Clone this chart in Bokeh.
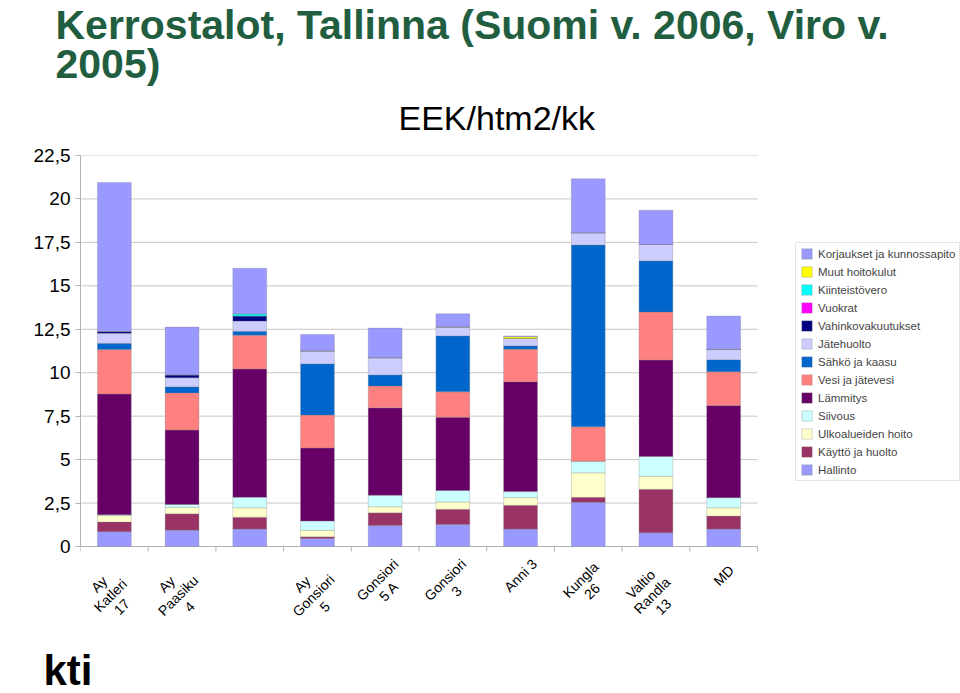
import math
from bokeh.plotting import figure
from bokeh.models import (ColumnDataSource, Range1d, FixedTicker, Legend,
                          LegendItem, Title)
from bokeh.core.properties import value
from bokeh.embed import file_html
from bokeh.resources import INLINE

# ---------------- data ----------------
categories = ["Ay\nKatleri\n17", "Ay\nPaasiku\n4", "", "Ay\nGonsiori\n5",
              "Gonsiori\n5 A", "Gonsiori\n3", "Anni 3", "Kungla\n26",
              "Valtio\nRandla\n13", "MD"]

hallinto = [0.85, 0.94, 1.00, 0.46, 1.21, 1.27, 1.00, 2.54, 0.79, 1.00]
kaytto = [0.56, 0.94, 0.69, 0.10, 0.73, 0.87, 1.37, 0.29, 2.50, 0.75]
ulkoalueet = [0.37, 0.37, 0.54, 0.37, 0.35, 0.42, 0.44, 1.41, 0.75, 0.48]
siivous = [0.05, 0.17, 0.60, 0.54, 0.66, 0.66, 0.35, 0.67, 1.14, 0.58]
lammitys = [6.95, 4.28, 7.38, 4.20, 5.03, 4.22, 6.32, 0.00, 5.55, 5.30]
vesi = [2.56, 2.14, 1.95, 1.89, 1.25, 1.46, 1.87, 1.98, 2.76, 1.95]
sahko = [0.35, 0.35, 0.23, 2.95, 0.64, 3.22, 0.20, 10.46, 2.95, 0.69]
jatehuolto = [0.58, 0.52, 0.58, 0.75, 1.00, 0.52, 0.42, 0.71, 0.94, 0.60]
vahinko = [0.10, 0.17, 0.29, 0.00, 0.00, 0.00, 0.00, 0.00, 0.00, 0.00]
vuokrat = [0.00, 0.00, 0.00, 0.00, 0.00, 0.00, 0.00, 0.00, 0.00, 0.00]
kiinteistovero = [0.00, 0.00, 0.13, 0.00, 0.00, 0.00, 0.00, 0.00, 0.00, 0.00]
muut = [0.00, 0.00, 0.00, 0.00, 0.00, 0.00, 0.10, 0.00, 0.00, 0.00]
korjaukset = [8.58, 2.75, 2.62, 0.94, 1.70, 0.75, 0.05, 3.10, 1.97, 1.91]

series_names = ["Hallinto", "Käyttö ja huolto", "Ulkoalueiden hoito", "Siivous",
                "Lämmitys", "Vesi ja jätevesi", "Sähkö ja kaasu", "Jätehuolto",
                "Vahinkovakuutukset", "Vuokrat", "Kiinteistövero",
                "Muut hoitokulut", "Korjaukset ja kunnossapito"]
series_values = [hallinto, kaytto, ulkoalueet, siivous, lammitys, vesi, sahko,
                 jatehuolto, vahinko, vuokrat, kiinteistovero, muut, korjaukset]
series_colors = ["#9999FF", "#993366", "#FFFFCC", "#CCFFFF", "#660066",
                 "#FF8080", "#0066CC", "#CCCCFF", "#000080", "#FF00FF",
                 "#00FFFF", "#FFFF00", "#9999FF"]

y_ticks = [0, 2.5, 5, 7.5, 10, 12.5, 15, 17.5, 20, 22.5]
y_tick_labels = ["0", "2,5", "5", "7,5", "10", "12,5", "15", "17,5", "20", "22,5"]

title_line1 = "Kerrostalot, Tallinna (Suomi v. 2006, Viro v."
title_line2 = "2005)"
subtitle_text = "EEK/htm2/kk"
logo_text = "kti"

FONT = "Liberation Sans"
GREEN = "#215e3f"
GRID = "#c8c8c8"
AXIS = "#b3b3b3"

# ---------------- layout (pixels) ----------------
W, H = 960, 693
LEFT = 80             # frame left
TOP = 155             # frame top (= top of value axis)
ZERO_Y = 546          # pixel row of value 0
AREA_RIGHT = 757      # right end of the bar area
BOTTOM_BORDER = 49    # room for logo under the frame
n = len(categories)
x_end = n * (W - LEFT) / (AREA_RIGHT - LEFT)
px_per_unit = (ZERO_Y - TOP) / y_ticks[-1]
frame_bottom = H - BOTTOM_BORDER
y_start = -(frame_bottom - ZERO_Y) / px_per_unit

xs = [i + 0.5 for i in range(n)]
keys = ["s%d" % i for i in range(len(series_names))]
data = {"x": xs}
for k, v in zip(keys, series_values):
    data[k] = v
source = ColumnDataSource(data)

p = figure(width=W, height=H, output_backend="svg", toolbar_location=None,
           x_range=Range1d(0, x_end), y_range=Range1d(y_start, y_ticks[-1]),
           min_border_left=LEFT, min_border_right=0, min_border_top=TOP,
           min_border_bottom=BOTTOM_BORDER, title=None)
p.outline_line_color = None
p.background_fill_color = "white"
p.border_fill_color = "white"
p.xaxis.visible = False
p.xgrid.visible = False
p.ygrid.visible = False

# horizontal grid lines over the bar area, and the category axis line
p.segment(x0=[0] * (len(y_ticks) - 1), x1=[n] * (len(y_ticks) - 1),
          y0=y_ticks[1:], y1=y_ticks[1:], line_color=GRID, line_width=1)
p.segment(x0=[0], x1=[n], y0=[0], y1=[0], line_color=AXIS, line_width=1)
# category boundary ticks (5 px down)
tick_len = 5 / px_per_unit
p.segment(x0=list(range(n + 1)), x1=list(range(n + 1)), y0=[0] * (n + 1),
          y1=[-tick_len] * (n + 1), line_color=AXIS, line_width=1)

renderers = p.vbar_stack(keys, x="x", width=0.5, color=series_colors,
                         source=source, line_color="#808080", line_alpha=0.5,
                         line_width=0.6)

# y axis
p.yaxis.bounds = (y_ticks[0], y_ticks[-1])
p.yaxis.ticker = FixedTicker(ticks=y_ticks)
p.yaxis.major_label_overrides = {t: l for t, l in zip(y_ticks, y_tick_labels)}
p.yaxis.axis_line_color = AXIS
p.yaxis.major_tick_line_color = AXIS
p.yaxis.major_tick_out = 5
p.yaxis.major_tick_in = 0
p.yaxis.minor_tick_line_color = None
p.yaxis.major_label_standoff = 5
p.yaxis.major_label_text_font = FONT
p.yaxis.major_label_text_font_size = "19px"
p.yaxis.major_label_text_color = "black"

# rotated category labels (centred, below the axis)
lx, ly, lt, lxo, lyo = [], [], [], [], []
for x, lab in zip(xs, categories):
    if not lab:
        continue
    nl = lab.count("\n") + 1
    lx.append(x)
    ly.append(0)
    lt.append(lab)
    lxo.append(-2 * (nl - 1))
    lyo.append(29 + 10 * (nl - 1))
lab_src = ColumnDataSource(dict(x=lx, y=ly, text=lt, xo=lxo, yo=lyo))
p.text(x="x", y="y", text="text", x_offset="xo", y_offset="yo", source=lab_src,
       angle=math.pi / 4, text_align="center", text_baseline="middle",
       text_font=value(FONT), text_font_size=value("14px"),
       text_color="black", text_line_height=1.0)

# legend (inside the wide frame, right of the bars)
items = [LegendItem(label=nm, renderers=[r])
         for nm, r in zip(series_names, renderers)][::-1]
legend = Legend(items=items, location=(715, frame_bottom - 481),
                orientation="vertical",
                glyph_width=13, glyph_height=13, label_height=13, spacing=5,
                padding=4, margin=0, label_standoff=5,
                label_text_font=FONT, label_text_font_size="11.5px",
                border_line_color=GRID, border_line_width=1,
                background_fill_color="white", background_fill_alpha=1)
p.add_layout(legend, "center")

# titles: nearest the frame first
sub = Title(text=subtitle_text, align="left", offset=318, standoff=37,
            text_font=FONT, text_font_style="normal", text_font_size="34px",
            text_color="black")
t2 = Title(text=title_line2, align="left", offset=-25, standoff=-16,
           text_font=FONT, text_font_style="bold", text_font_size="41px",
           text_color=GREEN)
t1 = Title(text=title_line1, align="left", offset=-25, standoff=-2,
           text_font=FONT, text_font_style="bold", text_font_size="41px",
           text_color=GREEN)
p.add_layout(sub, "above")
p.add_layout(t2, "above")
p.add_layout(t1, "above")

# logo text
logo = Title(text=logo_text, align="left", offset=-37, standoff=0,
             text_font=FONT, text_font_style="bold",
             text_font_size="42px", text_color="black")
p.add_layout(logo, "below")

open("out.html", "w").write(file_html(p, INLINE))
